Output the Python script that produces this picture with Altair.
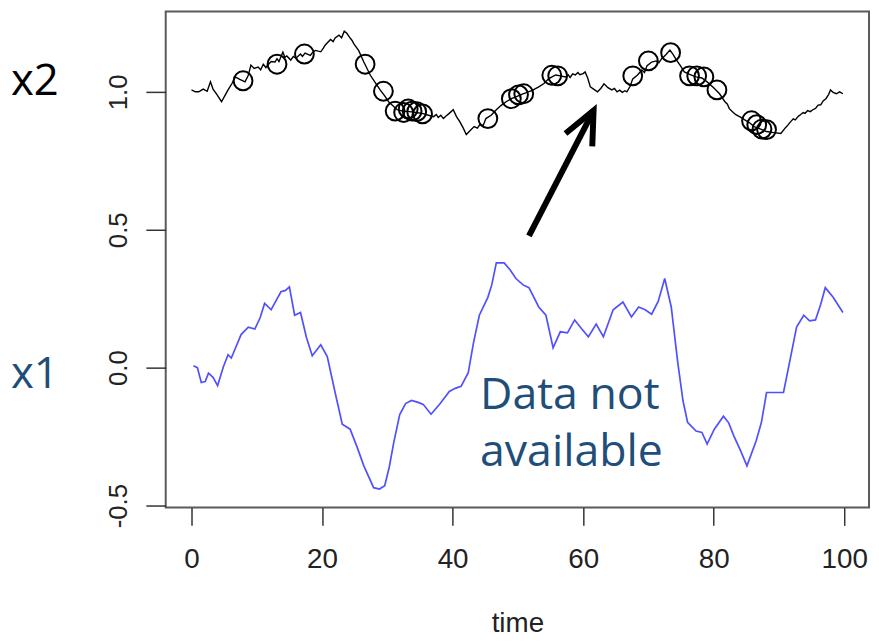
import altair as alt
import pandas as pd

# ---- data ----
x2_t = [0, 0.6, 1.1, 1.8, 2.4, 2.9, 3.3, 3.9, 4.6, 5.1, 5.6, 6.2, 6.7, 7.4, 8.2, 8.7, 9.1, 9.6, 10.2,
        10.6, 11.0, 11.4, 11.7, 12.2, 12.8, 13.1, 13.4, 14.0, 14.3, 14.6, 15.2, 15.6, 16.0, 16.7,
        17.0, 17.4, 18.2, 18.6, 19.0, 19.8, 20.2, 20.5, 21.3, 21.7, 22.0, 22.6, 23.0, 23.4, 23.8,
        24.2, 24.6, 24.9, 25.6, 26.4, 27.4, 28.1, 28.9, 29.6, 30.2, 31.5, 32.4, 33.4, 34.4, 35.5,
        36.3, 37.1, 37.5, 37.8, 38.2, 38.6, 39.0, 39.4, 40.1, 40.6, 41.1, 41.6, 42.1, 42.7, 43.3,
        43.8, 44.2, 44.7, 45.1, 45.9, 46.7, 47.4, 48.2, 49.0, 49.7, 50.5, 51.2, 52.2, 53.2, 54.0,
        54.7, 55.3, 55.8, 56.5, 57.3, 57.7, 58.0, 58.4, 58.8, 59.2, 59.5, 60.0, 60.3, 60.7, 61.1,
        61.6, 62.2, 62.7, 63.2, 63.8, 64.4, 64.8, 65.2, 65.6, 66.0, 66.4, 66.7, 67.2, 67.6, 68.3,
        69.0, 69.4, 69.8, 70.5, 71.2, 71.6, 72.0, 72.4, 72.7, 73.3, 73.8, 74.3, 74.9, 75.5, 76.4,
        77.3, 78.2, 79.0, 80.0, 80.9, 81.7, 82.1, 82.4, 83.0, 83.4, 84.1, 84.7, 85.5, 86.2, 87.2,
        88.1, 89.2, 90.3, 91.0, 91.4, 91.8, 92.2, 92.5, 93.0, 93.3, 93.7, 94.0, 94.4, 94.8, 95.2,
        95.6, 96.0, 96.4, 96.8, 97.2, 97.6, 97.9, 98.3, 98.8, 99.3, 99.8]
x2_v = [1.007, 1.0, 1.0, 1.01, 1.002, 1.036, 1.01, 0.99, 0.964, 0.985, 1.007, 1.03, 1.054, 1.045,
        1.036, 1.06, 1.097, 1.085, 1.09, 1.08, 1.1, 1.088, 1.097, 1.11, 1.108, 1.12, 1.11, 1.144,
        1.125, 1.13, 1.115, 1.128, 1.122, 1.137, 1.128, 1.14, 1.132, 1.144, 1.15, 1.145, 1.158,
        1.17, 1.19, 1.182, 1.195, 1.205, 1.196, 1.22, 1.212, 1.198, 1.186, 1.173, 1.15, 1.108,
        1.06, 1.035, 1.007, 0.985, 0.964, 0.935, 0.93, 0.928, 0.925, 0.921, 0.915, 0.91, 0.918,
        0.907, 0.915, 0.903, 0.912, 0.92, 0.935, 0.91, 0.892, 0.87, 0.845, 0.86, 0.874, 0.868,
        0.882, 0.878, 0.903, 0.915, 0.935, 0.95, 0.964, 0.975, 0.982, 0.99, 0.996, 1.005, 1.018,
        1.03, 1.047, 1.055, 1.061, 1.058, 1.054, 1.062, 1.052, 1.065, 1.061, 1.07, 1.062, 1.066,
        1.072, 1.05, 1.018, 1.01, 1.0, 1.012, 1.029, 1.015, 1.007, 1.012, 1.0, 1.006, 0.998,
        1.004, 1.0, 1.02, 1.047, 1.06, 1.079, 1.07, 1.095, 1.108, 1.112, 1.105, 1.119, 1.128,
        1.135, 1.151, 1.135, 1.115, 1.095, 1.072, 1.062, 1.054, 1.05, 1.036, 1.015, 0.993, 0.965,
        0.955, 0.939, 0.925, 0.917, 0.908, 0.899, 0.888, 0.874, 0.865, 0.856, 0.852, 0.849, 0.87,
        0.88, 0.892, 0.902, 0.898, 0.912, 0.917, 0.925, 0.922, 0.932, 0.928, 0.935, 0.94, 0.952,
        0.953, 0.968, 0.975, 0.99, 1.007, 0.998, 0.993, 1.0, 0.993]

x1_t = [0.3, 0.9, 1.5, 2.1, 2.6, 3.3, 4.0, 4.9, 5.6, 6.1, 6.8, 7.6, 8.7, 9.7, 10.5, 11.2, 12.2, 13.0,
        13.7, 14.4, 15.0, 15.8, 16.7, 17.6, 18.5, 19.8, 20.8, 22.0, 23.1, 24.3, 25.4, 26.4, 27.9,
        28.8, 29.6, 30.3, 31.0, 31.9, 32.8, 33.7, 34.6, 35.5, 36.7, 38.1, 39.5, 40.4, 41.3, 42.4,
        43.2, 44.1, 45.4, 46.0, 46.7, 47.9, 48.8, 49.7, 50.8, 51.7, 53.2, 54.3, 55.4, 56.5, 57.6,
        58.7, 59.8, 60.8, 62.0, 63.1, 64.6, 66.1, 67.4, 68.5, 69.5, 70.5, 71.5, 72.5, 73.5, 74.5,
        75.3, 76.0, 77.3, 78.2, 79.0, 80.1, 81.5, 82.3, 83.1, 84.1, 85.1, 86.5, 87.3, 88.1, 89.4,
        90.7, 91.8, 92.7, 93.8, 94.7, 95.6, 96.4, 97.1, 98.3, 99.8]
x1_v = [0.007, 0.0, -0.054, -0.05, -0.02, -0.035, -0.065, 0.004, 0.047, 0.035, 0.075, 0.12, 0.147,
        0.14, 0.18, 0.233, 0.21, 0.245, 0.275, 0.28, 0.293, 0.19, 0.2, 0.11, 0.043, 0.083, 0.04,
        -0.09, -0.205, -0.223, -0.29, -0.356, -0.435, -0.44, -0.428, -0.36, -0.27, -0.17, -0.13,
        -0.119, -0.125, -0.133, -0.169, -0.13, -0.086, -0.075, -0.068, -0.018, 0.09, 0.19, 0.255,
        0.3, 0.38, 0.38, 0.355, 0.323, 0.30, 0.29, 0.22, 0.19, 0.072, 0.13, 0.126, 0.173, 0.14,
        0.112, 0.158, 0.112, 0.21, 0.238, 0.184, 0.22, 0.21, 0.194, 0.24, 0.323, 0.22, 0.018,
        -0.12, -0.198, -0.23, -0.235, -0.277, -0.223, -0.176, -0.2, -0.248, -0.3, -0.356, -0.266,
        -0.2, -0.09, -0.09, -0.09, 0.04, 0.147, 0.19, 0.17, 0.173, 0.23, 0.29, 0.255, 0.20]

obs_t = [7.9, 13.1, 17.3, 26.6, 29.4, 31.2, 32.5, 33.2, 33.8, 34.5, 35.4, 45.4, 49.0, 50.1, 50.9,
         55.2, 56.1, 67.6, 70.0, 73.4, 76.3, 77.4, 78.5, 80.5, 85.8, 86.6, 87.4, 88.1]
obs_v = [1.04, 1.10, 1.137, 1.10, 1.002, 0.93, 0.925, 0.938, 0.93, 0.928, 0.92, 0.903, 0.975, 0.989,
         0.993, 1.06, 1.058, 1.058, 1.112, 1.142, 1.058, 1.058, 1.054, 1.007, 0.895, 0.881, 0.865,
         0.863]

x_ticks = [0, 20, 40, 60, 80, 100]
y_ticks = [-0.5, 0.0, 0.5, 1.0]

arrow_tail = [51.7, 0.478]
arrow_tip = [61.6, 0.932]
head_t = [57.3, 61.6, 61.4]
head_v = [0.849, 0.932, 0.802]

note_lines = ["Data not", "available"]
note_t = [44.2, 44.2]
note_v = [-0.151, -0.356]

series_names = ["x2", "x1"]
series_colors = ["#000000", "#1F4E79"]

# ---- scales / axes ----
XDOM = [-3.95, 103.8]
YDOM = [-0.507, 1.291]
FONT = "Liberation Sans"

x_axis = alt.Axis(values=x_ticks, title="time", labelFontSize=28, titleFontSize=28,
                  labelPadding=20, titleFontWeight="normal", titleBaseline="alphabetic",
                  titleY=125, labelFont=FONT, titleFont=FONT, labelColor="#222",
                  titleColor="#222", tickSize=18, labelFlush=False)
y_axis = alt.Axis(values=y_ticks, title=None, labelFontSize=26, labelAngle=270,
                  labelAlign="center", labelBaseline="alphabetic", labelPadding=20,
                  labelFont=FONT, labelColor="#222", tickSize=20, labelFlush=False,
                  labelExpr="datum.value < 0 ? '-' + format(-datum.value, '.1f') : format(datum.value, '.1f')")


def X(f):
    return alt.X(f, type="quantitative", scale=alt.Scale(domain=XDOM, nice=False, zero=False), axis=x_axis)


def Y(f):
    return alt.Y(f, type="quantitative", scale=alt.Scale(domain=YDOM, nice=False, zero=False), axis=y_axis)


df_x2 = pd.DataFrame({"t": x2_t, "v": x2_v})
df_x1 = pd.DataFrame({"t": x1_t, "v": x1_v})
df_obs = pd.DataFrame({"t": obs_t, "v": obs_v})
df_shaft = pd.DataFrame({"t": [arrow_tail[0]], "v": [arrow_tail[1]],
                         "t2": [arrow_tip[0]], "v2": [arrow_tip[1]]})
df_head = pd.DataFrame({"t": head_t, "v": head_v, "o": [0, 1, 2]})
df_note = pd.DataFrame({"t": note_t, "v": note_v, "txt": note_lines})

line_x2 = alt.Chart(df_x2).mark_line(color="#000000", strokeWidth=1.4).encode(x=X("t"), y=Y("v"))
line_x1 = alt.Chart(df_x1).mark_line(color="#5050ff", strokeWidth=1.7).encode(x=X("t"), y=Y("v"))
circles = alt.Chart(df_obs).mark_point(shape="circle", filled=False, color="#000000",
                                       size=360, strokeWidth=2, opacity=1).encode(x=X("t"), y=Y("v"))
shaft = alt.Chart(df_shaft).mark_rule(color="#000000", strokeWidth=6, strokeCap="butt").encode(
    x=X("t"), y=Y("v"), x2="t2", y2="v2")
head = alt.Chart(df_head).mark_line(color="#000000", strokeWidth=6, strokeJoin="miter",
                                    strokeCap="butt").encode(x=X("t"), y=Y("v"), order="o:Q")
note = alt.Chart(df_note).mark_text(align="left", baseline="alphabetic", font="Open Sans",
                                    fontSize=45, color="#1F4E79").encode(
    x=X("t"), y=Y("v"), text="txt:N")
lab_x2 = alt.Chart(pd.DataFrame({"s": [series_names[0]]})).mark_text(
    align="left", baseline="alphabetic", font="Open Sans", fontSize=44, color=series_colors[0]
).encode(x=alt.value(-156), y=alt.value(84), text="s:N")
lab_x1 = alt.Chart(pd.DataFrame({"s": [series_names[1]]})).mark_text(
    align="left", baseline="alphabetic", font="Open Sans", fontSize=44, color=series_colors[1]
).encode(x=alt.value(-156), y=alt.value(380), text="s:N")

chart = alt.layer(line_x2, circles, line_x1, shaft, head, note, lab_x2, lab_x1).properties(
    width=709, height=500,
    autosize=alt.AutoSizeParams(type="none"),
    padding={"left": 159, "top": 1, "right": 2, "bottom": 132},
    background="white",
).configure_view(stroke="#5a5a5a", strokeWidth=2).configure_axis(
    domain=False, grid=False, tickColor="#333", tickWidth=1.5
)

chart.save("out.html", embed_options={"renderer": "svg", "actions": False})
